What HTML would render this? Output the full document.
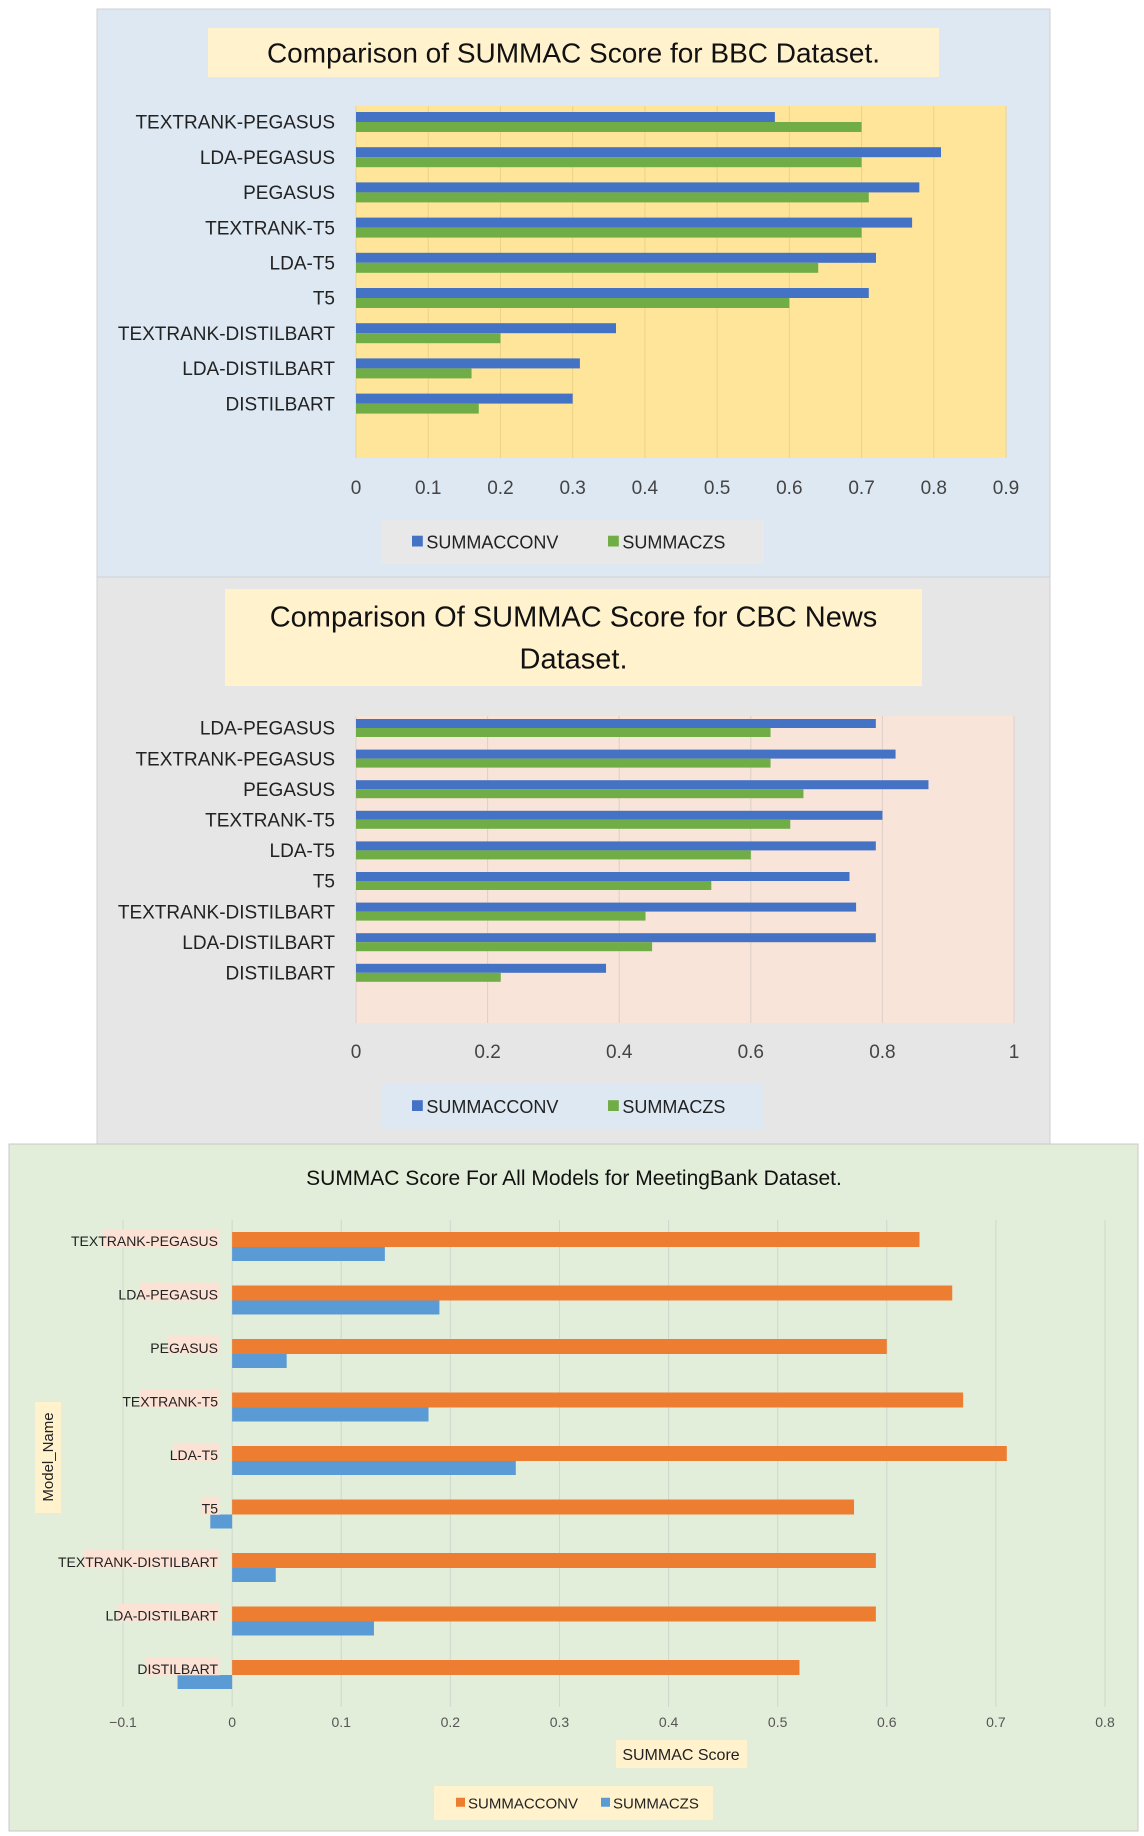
<!DOCTYPE html>
<html><head><meta charset="utf-8"><style>
html,body{margin:0;padding:0;background:#fff;}
svg{display:block;font-family:"Liberation Sans",sans-serif;}
</style></head><body>
<svg id="s" width="1144" height="1836" viewBox="0 0 1144 1836" xmlns="http://www.w3.org/2000/svg">
<rect x="97" y="9" width="953" height="568" fill="#dde8f3" stroke="#d0d0d0"/>
<rect x="97" y="577" width="953" height="567" fill="#e6e6e6" stroke="#d0d0d0"/>
<rect x="9" y="1144" width="1129" height="687" fill="#e2eed9" stroke="#c8c8c8"/>
<g id="g"></g>
</svg>
<script>
const bbcCats=["TEXTRANK-PEGASUS","LDA-PEGASUS","PEGASUS","TEXTRANK-T5","LDA-T5","T5","TEXTRANK-DISTILBART","LDA-DISTILBART","DISTILBART"];
const bbcConv=[0.58,0.81,0.78,0.77,0.72,0.71,0.36,0.31,0.30];
const bbcZs=[0.70,0.70,0.71,0.70,0.64,0.60,0.20,0.16,0.17];
const bbcTicks=[0,0.1,0.2,0.3,0.4,0.5,0.6,0.7,0.8,0.9];
const cbcCats=["LDA-PEGASUS","TEXTRANK-PEGASUS","PEGASUS","TEXTRANK-T5","LDA-T5","T5","TEXTRANK-DISTILBART","LDA-DISTILBART","DISTILBART"];
const cbcConv=[0.79,0.82,0.87,0.80,0.79,0.75,0.76,0.79,0.38];
const cbcZs=[0.63,0.63,0.68,0.66,0.60,0.54,0.44,0.45,0.22];
const cbcTicks=[0,0.2,0.4,0.6,0.8,1];
const mbCats=["TEXTRANK-PEGASUS","LDA-PEGASUS","PEGASUS","TEXTRANK-T5","LDA-T5","T5","TEXTRANK-DISTILBART","LDA-DISTILBART","DISTILBART"];
const mbConv=[0.63,0.66,0.60,0.67,0.71,0.57,0.59,0.59,0.52];
const mbZs=[0.14,0.19,0.05,0.18,0.26,-0.02,0.04,0.13,-0.05];
const mbTicks=[-0.1,0,0.1,0.2,0.3,0.4,0.5,0.6,0.7,0.8];

const NS="http://www.w3.org/2000/svg";
const G=document.getElementById('g');
function mk(tag,attrs,name,txt){const e=document.createElementNS(NS,tag);for(const k in attrs)e.setAttribute(k,attrs[k]);


if(txt!==undefined)e.textContent=txt;G.appendChild(e);return e;}

function chart(o){
  const sx=v=>o.x0+(v-o.min)/(o.max-o.min)*(o.x1-o.x0);
  if(o.plotFill)mk('rect',{x:o.x0,y:o.y0,width:o.x1-o.x0,height:o.y1-o.y0,fill:o.plotFill},o.key+'-plot-area');
  o.ticks.forEach(t=>{
    mk('line',{x1:sx(t),x2:sx(t),y1:o.y0,y2:o.y1,stroke:o.grid,'stroke-width':1},o.key+'-gridline');
    mk('text',{x:sx(t),y:o.tickY,'text-anchor':'middle','font-size':o.tickFs,fill:o.tickCol},o.key+'-x-tick',String(t).replace('-','\u2212'));
  });
  o.cats.forEach((c,i)=>{
    const cy=o.rowY0+i*o.rowStep;
    const z=sx(0);
    const v1=o.s1[i],v2=o.s2[i];
    mk('rect',{x:Math.min(z,sx(v1)),y:cy-o.bh,width:Math.abs(sx(v1)-z),height:o.bh,fill:o.c1},o.key+'-bar-conv');
    mk('rect',{x:Math.min(z,sx(v2)),y:cy,width:Math.abs(sx(v2)-z),height:o.bh2||o.bh,fill:o.c2},o.key+'-bar-zs');
    if(o.labBg){const w=c.length*o.catFs*0.5;mk('rect',{x:o.labX-w-2,y:cy+(o.labDy||0)-o.catFs*0.85,width:w+4,height:o.catFs*1.3,fill:o.labBg},o.key+'-label-bg');}
    mk('text',{x:o.labX,y:cy+o.catFs*0.35+(o.labDy||0),'text-anchor':'end','font-size':o.catFs,fill:o.catCol},o.key+'-category-label',c);
  });
}
function title(x,y,w,h,fill,lines,fs,name){
  mk('rect',{x:x,y:y,width:w,height:h,fill:fill},name+'-bg');
  lines.forEach((l,i)=>mk('text',{x:x+w/2,y:y+h/2+fs*0.35+(i-(lines.length-1)/2)*fs*1.45,'text-anchor':'middle','font-size':fs,fill:'#111'},name,l));
}
function legend(x,y,w,h,fill,c1,c2,fs,name,cx1,cx2){
  mk('rect',{x:x,y:y,width:w,height:h,fill:fill},name+'-box');
  const cy=y+h/2;
  mk('rect',{x:cx1,y:cy-fs*0.35,width:fs*0.6,height:fs*0.6,fill:c1},name+'-swatch-conv');
  mk('text',{x:cx1+fs*0.8,y:cy+fs*0.35,'font-size':fs,fill:'#222'},name+'-label-conv','SUMMACCONV');
  mk('rect',{x:cx2,y:cy-fs*0.35,width:fs*0.6,height:fs*0.6,fill:c2},name+'-swatch-zs');
  mk('text',{x:cx2+fs*0.8,y:cy+fs*0.35,'font-size':fs,fill:'#222'},name+'-label-zs','SUMMACZS');
}

// BBC
title(208,28,731,49,'#fff2cc',['Comparison of SUMMAC Score for BBC Dataset.'],28,'bbc-title');
chart({key:'bbc',cats:bbcCats,s1:bbcConv,s2:bbcZs,ticks:bbcTicks,min:0,max:0.9,x0:356,x1:1006,y0:106,y1:458,
  plotFill:'#ffe59a',grid:'#e8d48a',tickY:494,tickFs:19,tickCol:'#444',rowY0:122,rowStep:35.2,bh:10,c1:'#4472c4',c2:'#70ad47',
  labX:335,catFs:19,catCol:'#222'});
legend(381,520,383,44,'#e8e8e8','#4472c4','#70ad47',18,'bbc-legend',412,608);

// CBC
title(225,589,697,97,'#fff2cc',['Comparison Of SUMMAC Score for CBC News','Dataset.'],29,'cbc-title');
chart({key:'cbc',cats:cbcCats,s1:cbcConv,s2:cbcZs,ticks:cbcTicks,min:0,max:1,x0:356,x1:1014,y0:716,y1:1023,
  plotFill:'#f8e4d8',grid:'#ddd0c8',tickY:1058,tickFs:19,tickCol:'#444',rowY0:728,rowStep:30.6,bh:9,c1:'#4472c4',c2:'#70ad47',
  labX:335,catFs:19,catCol:'#222'});
legend(381,1084,383,45,'#dde8f3','#4472c4','#70ad47',18,'cbc-legend',412,608);

// MeetingBank
mk('text',{x:574,y:1185,'text-anchor':'middle','font-size':21,fill:'#111'},'mb-title','SUMMAC Score For All Models for MeetingBank Dataset.');
chart({key:'mb',cats:mbCats,s1:mbConv,s2:mbZs,ticks:mbTicks,min:-0.1,max:0.8,x0:123,x1:1105,y0:1220,y1:1707,
  grid:'#cfd8cc',tickY:1727,tickFs:14,tickCol:'#555',rowY0:1247,rowStep:53.5,bh:15,bh2:14,c1:'#ed7d31',c2:'#5b9bd5',
  labX:218,catFs:14,catCol:'#222',labBg:'#fbe2d5',labDy:-6});
mk('rect',{x:616,y:1740,width:131,height:28,fill:'#fff2cc'},'mb-x-axis-title-bg');
mk('text',{x:681,y:1760,'text-anchor':'middle','font-size':16,fill:'#222'},'mb-x-axis-title','SUMMAC Score');
mk('rect',{x:35,y:1402,width:26,height:111,fill:'#fff2cc'},'mb-y-axis-title-bg');
mk('text',{x:0,y:0,'text-anchor':'middle','font-size':15,fill:'#222',transform:'translate(53,1457) rotate(-90)'},'mb-y-axis-title','Model_Name');
legend(434,1786,279,34,'#fff2cc','#ed7d31','#5b9bd5',15,'mb-legend',456,601);
</script>
</body></html>
